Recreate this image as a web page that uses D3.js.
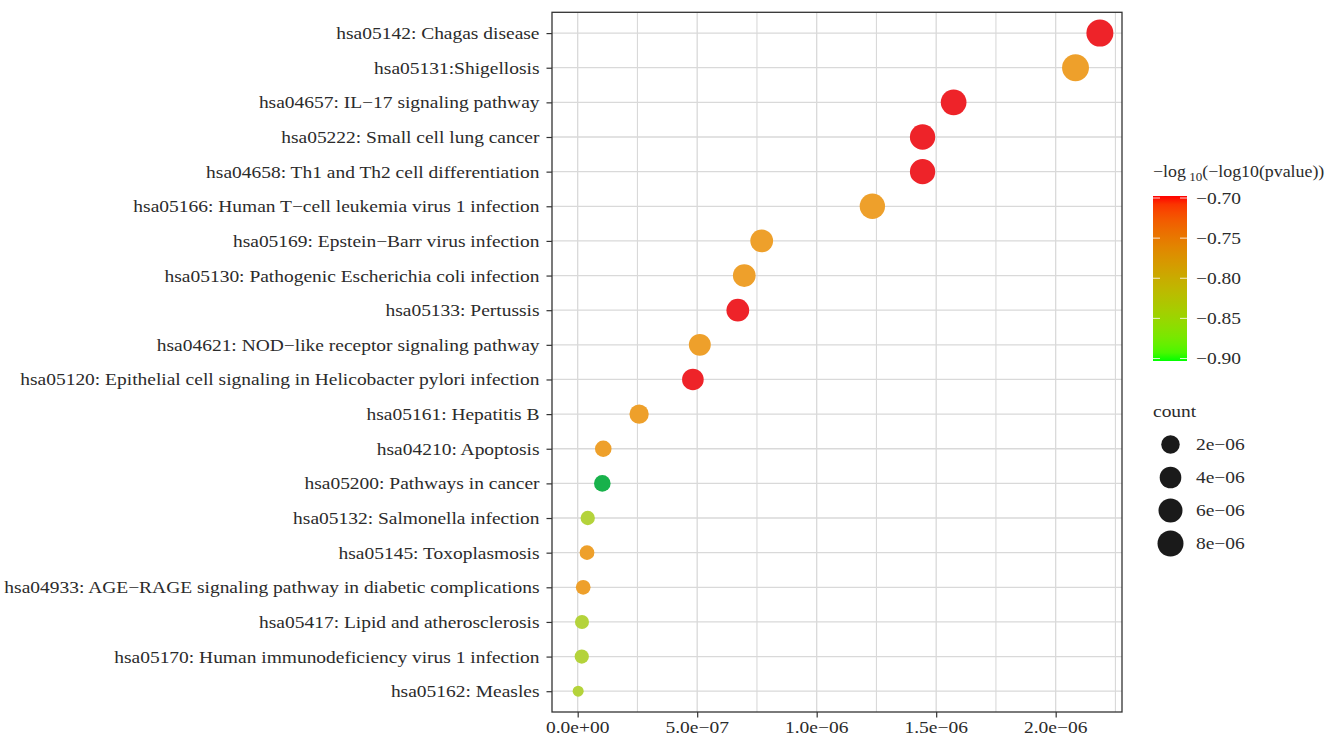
<!DOCTYPE html>
<html><head><meta charset="utf-8">
<script src="https://cdn.jsdelivr.net/npm/d3@7"></script>
<style>
html,body{margin:0;padding:0;background:#fff;}
text{font-family:"Liberation Serif","Times New Roman",serif;}
</style></head>
<body>
<svg id="chart" width="1330" height="736"></svg>
<script>
// ---- data ----
const terms = [
  "hsa05142: Chagas disease",
  "hsa05131:Shigellosis",
  "hsa04657: IL\u221217 signaling pathway",
  "hsa05222: Small cell lung cancer",
  "hsa04658: Th1 and Th2 cell differentiation",
  "hsa05166: Human T\u2212cell leukemia virus 1 infection",
  "hsa05169: Epstein\u2212Barr virus infection",
  "hsa05130: Pathogenic Escherichia coli infection",
  "hsa05133: Pertussis",
  "hsa04621: NOD\u2212like receptor signaling pathway",
  "hsa05120: Epithelial cell signaling in Helicobacter pylori infection",
  "hsa05161: Hepatitis B",
  "hsa04210: Apoptosis",
  "hsa05200: Pathways in cancer",
  "hsa05132: Salmonella infection",
  "hsa05145: Toxoplasmosis",
  "hsa04933: AGE\u2212RAGE signaling pathway in diabetic complications",
  "hsa05417: Lipid and atherosclerosis",
  "hsa05170: Human immunodeficiency virus 1 infection",
  "hsa05162: Measles"
];
const xValues = [2.185e-6, 2.083e-6, 1.573e-6, 1.443e-6, 1.443e-6, 1.233e-6, 0.770e-6, 0.697e-6, 0.670e-6, 0.511e-6,
                 0.482e-6, 0.257e-6, 0.107e-6, 0.103e-6, 0.042e-6, 0.039e-6, 0.023e-6, 0.018e-6, 0.017e-6, 0.002e-6];
const countValues = [9.1e-6, 9.0e-6, 7.7e-6, 7.3e-6, 7.3e-6, 7.3e-6, 4.9e-6, 4.9e-6, 4.9e-6, 4.2e-6,
                     4.0e-6, 2.45e-6, 1.1e-6, 1.1e-6, 0.4e-6, 0.49e-6, 0.49e-6, 0.33e-6, 0.38e-6, 0.0];
const colorValues = [-0.70, -0.76, -0.70, -0.70, -0.70, -0.76, -0.76, -0.76, -0.70, -0.76,
                     -0.70, -0.76, -0.76, -0.88, -0.82, -0.76, -0.76, -0.82, -0.82, -0.82];
const colorLevels = [-0.70, -0.76, -0.82, -0.88];
const colorSwatches = ["#EE2329", "#EEA02B", "#B4D33B", "#18B24B"];
const xTicks = [0, 5e-7, 1e-6, 1.5e-6, 2e-6];
const xTickLabels = ["0.0e+00", "5.0e\u221207", "1.0e\u221206", "1.5e\u221206", "2.0e\u221206"];
const colorTicks = [-0.70, -0.75, -0.80, -0.85, -0.90];
const colorTickLabels = ["\u22120.70", "\u22120.75", "\u22120.80", "\u22120.85", "\u22120.90"];
const sizeBreaks = [2e-6, 4e-6, 6e-6, 8e-6];
const sizeLabels = ["2e\u221206", "4e\u221206", "6e\u221206", "8e\u221206"];

// ---- layout ----
const svg = d3.select("#chart");
const P = {left: 552, right: 1122, top: 12.3, bottom: 712};
const textColor = "#2b2b2b";
const gridColor = "#D9D9D9";
const FS = 17, SX = 1.145;   // font size and horizontal stretch of the (wide) serif face

const x = d3.scaleLinear().domain([-0.1075e-6, 2.2775e-6]).range([P.left, P.right]);
const y = d3.scalePoint().domain(terms).range([P.top, P.bottom]).padding(0.6);
const r = d3.scaleSqrt().domain([0, 9.1e-6]).range([5.5, 13.5]);
const col = d3.scaleOrdinal().domain(colorLevels).range(colorSwatches);

function label(parent, tx, ty, str, anchor, size) {
  return parent.append("text")
    .attr("transform", `translate(${tx},${ty}) scale(${SX},1)`)
    .attr("text-anchor", anchor || "start")
    .attr("dy", "0.35em")
    .attr("fill", textColor)
    .style("font-size", (size || FS) + "px")
    .text(str);
}

// grid
const g = svg.append("g");
const minor = [2.5e-7, 7.5e-7, 1.25e-6, 1.75e-6, 2.25e-6];
g.selectAll(".minor").data(minor).join("line")
  .attr("x1", d => x(d)).attr("x2", d => x(d)).attr("y1", P.top).attr("y2", P.bottom)
  .attr("stroke", gridColor).attr("stroke-width", 1.1);
g.selectAll(".vmaj").data(xTicks).join("line")
  .attr("x1", d => x(d)).attr("x2", d => x(d)).attr("y1", P.top).attr("y2", P.bottom)
  .attr("stroke", gridColor).attr("stroke-width", 1.3);
g.selectAll(".hmaj").data(terms).join("line")
  .attr("x1", P.left).attr("x2", P.right).attr("y1", d => y(d)).attr("y2", d => y(d))
  .attr("stroke", gridColor).attr("stroke-width", 1.3);

// points
svg.append("g").selectAll("circle").data(terms).join("circle")
  .attr("cx", (d, i) => x(xValues[i]))
  .attr("cy", d => y(d))
  .attr("r", (d, i) => r(countValues[i]))
  .attr("fill", (d, i) => col(colorValues[i]));

// border
svg.append("rect").attr("x", P.left).attr("y", P.top)
  .attr("width", P.right - P.left).attr("height", P.bottom - P.top)
  .attr("fill", "none").attr("stroke", "#333").attr("stroke-width", 1.3);

// axes (ticks via d3 axis, labels drawn stretched)
const xAxis = d3.axisBottom(x).tickValues(xTicks).tickFormat("").tickSize(5.5);
const xa = svg.append("g").attr("transform", `translate(0,${P.bottom})`).call(xAxis);
xa.select(".domain").remove();
xa.selectAll("line").attr("stroke", "#333").attr("stroke-width", 1.2);
xTicks.forEach((t, i) => label(svg, x(t), P.bottom + 15, xTickLabels[i], "middle"));

const yAxis = d3.axisLeft(y).tickSize(5.5).tickFormat("");
const ya = svg.append("g").attr("transform", `translate(${P.left},0)`).call(yAxis);
ya.select(".domain").remove();
ya.selectAll("line").attr("stroke", "#333").attr("stroke-width", 1.2);
terms.forEach(t => label(svg, 539.5, y(t), t, "end"));

// colour legend
const L = svg.append("g");
const title = L.append("text").attr("transform", `translate(1153,177) scale(1.05,1)`)
  .attr("fill", textColor).style("font-size", FS + "px");
title.append("tspan").text("\u2212log");
title.append("tspan").attr("dy", 4).style("font-size", "12.5px").text(" 10");
title.append("tspan").attr("dy", -4).text("(\u2212log10(pvalue))");

const barX = 1153, barW = 34, barTop = 196, barBot = 361;
const cy = d3.scaleLinear().domain([-0.70, -0.90]).range([198, 358.5]);
const defs = svg.append("defs");
const grad = defs.append("linearGradient").attr("id", "cg").attr("x1", 0).attr("y1", 1).attr("x2", 0).attr("y2", 0);
const interp = d3.interpolateLab("#00FF00", "#FF0000");
d3.range(0, 1.0001, 0.05).forEach(t => grad.append("stop").attr("offset", t).attr("stop-color", interp(t)));
L.append("rect").attr("x", barX).attr("y", barTop).attr("width", barW).attr("height", barBot - barTop).attr("fill", "url(#cg)");
L.selectAll(".ctl").data(colorTicks).join("line")
  .attr("x1", barX).attr("x2", barX + 7).attr("y1", d => cy(d)).attr("y2", d => cy(d))
  .attr("stroke", "#fff").attr("stroke-opacity", 0.8).attr("stroke-width", 1);
L.selectAll(".ctr").data(colorTicks).join("line")
  .attr("x1", barX + barW - 7).attr("x2", barX + barW).attr("y1", d => cy(d)).attr("y2", d => cy(d))
  .attr("stroke", "#fff").attr("stroke-opacity", 0.8).attr("stroke-width", 1);
colorTicks.forEach((t, i) => label(L, 1196, cy(t), colorTickLabels[i], "start"));

// size legend
label(L, 1153, 411, "count", "start");
const sy = [444.5, 477.5, 510.5, 543.5];
L.selectAll(".sc").data(sizeBreaks).join("circle")
  .attr("cx", 1170.5).attr("cy", (d, i) => sy[i]).attr("r", d => r(d)).attr("fill", "#1a1a1a");
sizeBreaks.forEach((b, i) => label(L, 1196, sy[i], sizeLabels[i], "start"));
</script>
</body></html>
